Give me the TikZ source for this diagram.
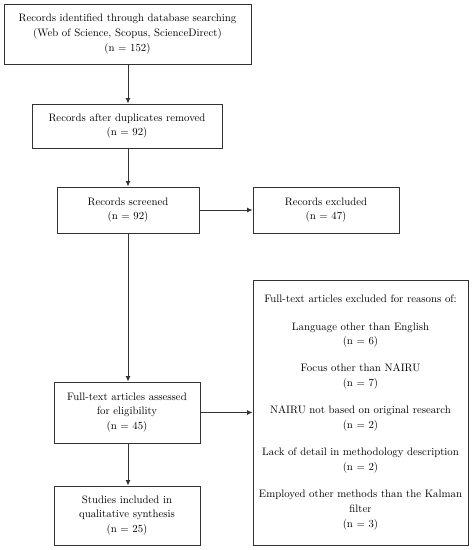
\documentclass[tikz,border=0pt]{standalone}
\usetikzlibrary{arrows.meta}
\begin{document}
\begin{tikzpicture}[x=1pt,y=-1pt,
  box/.style={draw=black!80, line width=0.9pt, inner sep=0pt, align=center, font=\fontsize{10.8}{14.7}\selectfont, text=black},
  arr/.style={draw=black!80, line width=0.9pt, -{Latex[length=5.5pt,width=5pt]}}]
\useasboundingbox (0,0) rectangle (473,550);
\node[box, minimum width=247pt, minimum height=60pt] (id) at (127.5,34) {Records identified through database searching\\(Web of Science, Scopus, ScienceDirect)\\(n = 152)};
\node[box, minimum width=190pt, minimum height=44pt] (dup) at (127,126) {Records after duplicates removed\\(n = 92)};
\node[box, minimum width=142pt, minimum height=46pt] (scr) at (128,210) {Records screened\\(n = 92)};
\node[box, minimum width=146pt, minimum height=46pt] (exc) at (326,210) {Records excluded\\(n = 47)};
\node[box, minimum width=146pt, minimum height=61pt] (full) at (127,412.5) {Full-text articles assessed\\for eligibility\\(n = 45)};
\node[box, minimum width=146pt, minimum height=59pt] (inc) at (127,515.5) {Studies included in\\qualitative synthesis\\(n = 25)};
\node[box, minimum width=215pt, minimum height=265pt] (why) at (360.5,412.5) {Full-text articles excluded for reasons of:\\[12.5pt]
Language other than English\\(n = 6)\\[12.5pt]
Focus other than NAIRU\\(n = 7)\\[12.5pt]
NAIRU not based on original research\\(n = 2)\\[12.5pt]
Lack of detail in methodology description\\(n = 2)\\[12.5pt]
Employed other methods than the Kalman\\filter\\(n = 3)};
\draw[arr] (id.south -| 128,0) -- (dup.north -| 128,0);
\draw[arr] (dup.south -| 128,0) -- (scr.north -| 128,0);
\draw[arr] (scr.south -| 128,0) -- (full.north -| 128,0);
\draw[arr] (full.south -| 128,0) -- (inc.north -| 128,0);
\draw[arr] (scr.east) -- (exc.west);
\draw[arr] (full.east) -- (why.west);
\end{tikzpicture}
\end{document}
